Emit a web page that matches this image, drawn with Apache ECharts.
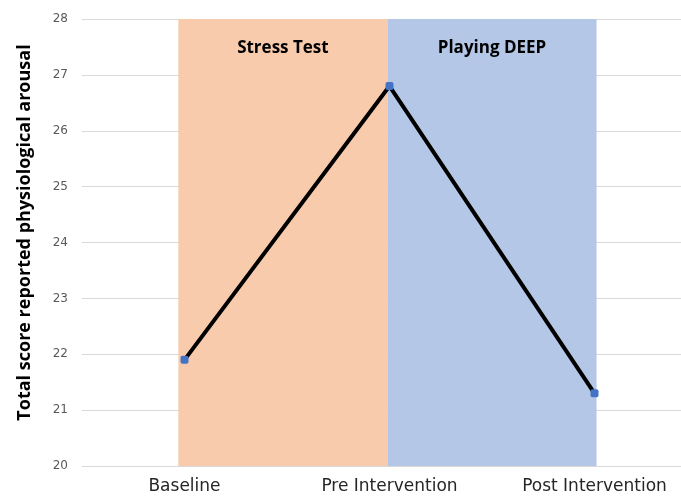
<!DOCTYPE html>
<html>
<head>
<meta charset="utf-8">
<script src="https://cdn.jsdelivr.net/npm/echarts@6/dist/echarts.min.js"></script>
<style>
  html, body { margin: 0; padding: 0; background: #fff; }
  #main { width: 681px; height: 498px; }
</style>
</head>
<body>
<div id="main"></div>
<script>
'use strict'
// arousal score across the three measurement points

var categories = ['Baseline', 'Pre Intervention', 'Post Intervention'];
var scores = [21.9, 26.8, 21.3];

// shaded phases, in band units of the category axis (0..3)
var phaseNames = ['Stress Test', 'Playing DEEP'];
var phaseFrom = [0.47, 1.49];
var phaseTo = [1.49, 2.51];
var phaseColors = ['#f8cbad', '#b4c7e7'];

var areas = phaseNames.map(function (name, i) {
    return [
        { name: name, xAxis: phaseFrom[i], itemStyle: { color: phaseColors[i] } },
        { xAxis: phaseTo[i] }
    ];
});

var option = {
    animation: false,
    grid: {
        left: 82,
        top: 19,
        width: 615,
        bottom: 32,
        containLabel: false,
        outerBoundsMode: 'none'
    },
    xAxis: [
        {
            type: 'category',
            data: categories,
            axisLine: { show: false },
            axisTick: { show: false },
            axisLabel: {
                fontFamily: 'DejaVu Sans',
                fontSize: 17,
                color: '#262626',
                margin: 12
            }
        },
        {
            type: 'value',
            min: 0,
            max: 3,
            show: false
        }
    ],
    yAxis: {
        type: 'value',
        min: 20,
        max: 28,
        interval: 1,
        name: 'Total score reported physiological arousal',
        nameLocation: 'middle',
        nameGap: 48,
        nameTextStyle: {
            fontFamily: 'Open Sans',
            fontWeight: 'bold',
            fontSize: 18,
            color: '#000',
            padding: [0, 0, 0, 20]
        },
        axisLine: { show: false },
        axisTick: { show: false },
        axisLabel: {
            fontFamily: 'DejaVu Sans',
            fontSize: 12,
            color: '#595959',
            margin: 14
        },
        splitLine: { lineStyle: { color: '#d9d9d9', width: 1 } }
    },
    series: [
        {
            type: 'line',
            xAxisIndex: 1,
            data: [],
            z: 1,
            markArea: {
                silent: true,
                label: {
                    show: true,
                    position: 'insideTop',
                    distance: 21,
                    fontFamily: 'Open Sans',
                    fontWeight: 'bold',
                    fontSize: 17,
                    color: '#000'
                },
                data: areas
            }
        },
        {
            type: 'line',
            xAxisIndex: 0,
            data: scores,
            z: 5,
            symbol: 'roundRect',
            symbolSize: 8,
            lineStyle: { color: '#000', width: 4 },
            itemStyle: { color: '#4472c4' }
        }
    ]
};

var myChart = echarts.init(document.getElementById('main'));
myChart.setOption(option);
</script>
</body>
</html>
